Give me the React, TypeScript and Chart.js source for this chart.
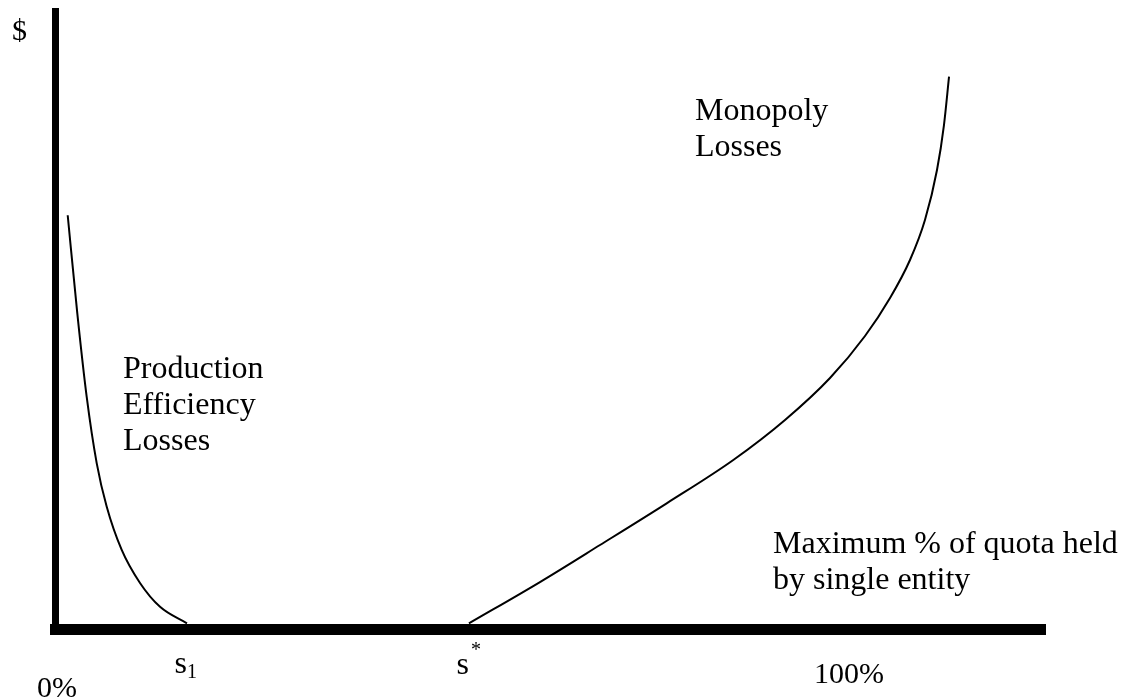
import React, { useEffect, useRef } from 'react';
import { Chart, registerables } from 'chart.js';

Chart.register(...registerables);

// x: maximum % of quota held by a single entity, y: $ (arbitrary units)
const S1 = 16.6;
const S_STAR = 52.2;

const productionX = [1.54, 2.75, 3.94, 5.2, 6.46, 8.36, 10.67, 13.2, 16.6];
const productionY = [66.7, 50.7, 37.0, 26.2, 19.1, 12.0, 6.6, 2.7, 0];

const monopolyX = [52.2, 61.17, 68.75, 77.17, 85.58, 92.11, 97.79, 102.21, 105.37, 107.89, 109.78, 111.3, 112.18, 112.82];
const monopolyY = [0, 6.76, 12.81, 19.62, 26.7, 33.24, 40.1, 46.97, 53.18, 59.39, 65.92, 74.09, 81.45, 89.34];

const tickLabels = ['0%', 's', 's', '100%'];
const tickValues = [0, S1, S_STAR, 100];

const annotationTexts = [
  ['Production', 'Efficiency', 'Losses'],
  ['Monopoly', 'Losses'],
  ['Maximum % of quota held', 'by single entity'],
];
const annotationX = [8.52, 80.74, 90.59];
const annotationY = [40.1, 82.3, 11.5];

const yLabel = '$';
const yLabelX = -5.5;
const yLabelY = 95.3;

const SERIF = '"Liberation Serif", "Times New Roman", serif';

const textPlugin = {
  id: 'diagramTexts',
  afterDraw(chart: any) {
    const { ctx, scales, chartArea } = chart;
    const xs = scales.x;
    const ys = scales.y;
    ctx.save();
    ctx.fillStyle = '#000';
    ctx.textBaseline = 'alphabetic';

    // annotations
    ctx.font = `32px ${SERIF}`;
    ctx.textAlign = 'left';
    annotationTexts.forEach((lines, i) => {
      const px = xs.getPixelForValue(annotationX[i]);
      const py = ys.getPixelForValue(annotationY[i]);
      lines.forEach((line, j) => ctx.fillText(line, px, py + j * 36));
    });

    // y label
    ctx.font = `30px ${SERIF}`;
    ctx.fillText(yLabel, xs.getPixelForValue(yLabelX), ys.getPixelForValue(yLabelY));

    const bottom = chartArea.bottom;
    // 0%
    ctx.textAlign = 'center';
    ctx.font = `30px ${SERIF}`;
    ctx.fillText(tickLabels[0], xs.getPixelForValue(tickValues[0]) + 1.5, bottom + 67.5);
    // 100%
    ctx.fillText(tickLabels[3], xs.getPixelForValue(tickValues[3]) + 1.5, bottom + 53.5);

    // s1
    const p1 = xs.getPixelForValue(tickValues[1]);
    ctx.font = `32px ${SERIF}`;
    ctx.textAlign = 'right';
    ctx.fillText(tickLabels[1], p1, bottom + 43.5);
    ctx.textAlign = 'left';
    ctx.font = `20px ${SERIF}`;
    ctx.fillText('1', p1, bottom + 48.5);

    // s*
    const p2 = xs.getPixelForValue(tickValues[2]);
    ctx.font = `32px ${SERIF}`;
    ctx.textAlign = 'right';
    ctx.fillText(tickLabels[2], p2, bottom + 44.5);
    ctx.textAlign = 'left';
    ctx.font = `20px ${SERIF}`;
    ctx.fillText('*', p2 + 2, bottom + 26.5);

    ctx.restore();
  },
};

export default function App() {
  const canvasRef = useRef<HTMLCanvasElement | null>(null);

  useEffect(() => {
    const canvas = canvasRef.current;
    if (!canvas) return;
    const chart = new Chart(canvas, {
      type: 'scatter',
      data: {
        datasets: [
          {
            label: 'Production Efficiency Losses',
            data: productionX.map((v, i) => ({ x: v, y: productionY[i] })),
            showLine: true,
            borderColor: '#000',
            borderWidth: 2,
            pointRadius: 0,
            cubicInterpolationMode: 'monotone',
            fill: false,
          },
          {
            label: 'Monopoly Losses',
            data: monopolyX.map((v, i) => ({ x: v, y: monopolyY[i] })),
            showLine: true,
            borderColor: '#000',
            borderWidth: 2,
            pointRadius: 0,
            cubicInterpolationMode: 'monotone',
            fill: false,
          },
        ],
      },
      options: {
        responsive: false,
        animation: false,
        devicePixelRatio: 1,
        layout: {
          autoPadding: false,
          padding: { left: 55.5, right: 1129 - 1045.5, top: 11.5, bottom: 700 - 629.5 },
        },
        plugins: {
          legend: { display: false },
          tooltip: { enabled: false },
        },
        scales: {
          x: {
            type: 'linear',
            min: 0,
            max: 125,
            ticks: { display: false },
            grid: { display: false, drawTicks: false, tickLength: 0 },
            border: { display: true, color: '#000', width: 11 },
          },
          y: {
            type: 'linear',
            min: -1,
            max: 100,
            ticks: { display: false },
            grid: { display: false, drawTicks: false, tickLength: 0 },
            border: { display: true, color: '#000', width: 7 },
          },
        },
      } as any,
      plugins: [textPlugin],
    });
    return () => chart.destroy();
  }, []);

  return (
    <div style={{ position: 'fixed', left: 0, top: 0, width: 1129, height: 700, background: '#fff' }}>
      <canvas ref={canvasRef} width={1129} height={700} style={{ display: 'block' }} />
    </div>
  );
}
